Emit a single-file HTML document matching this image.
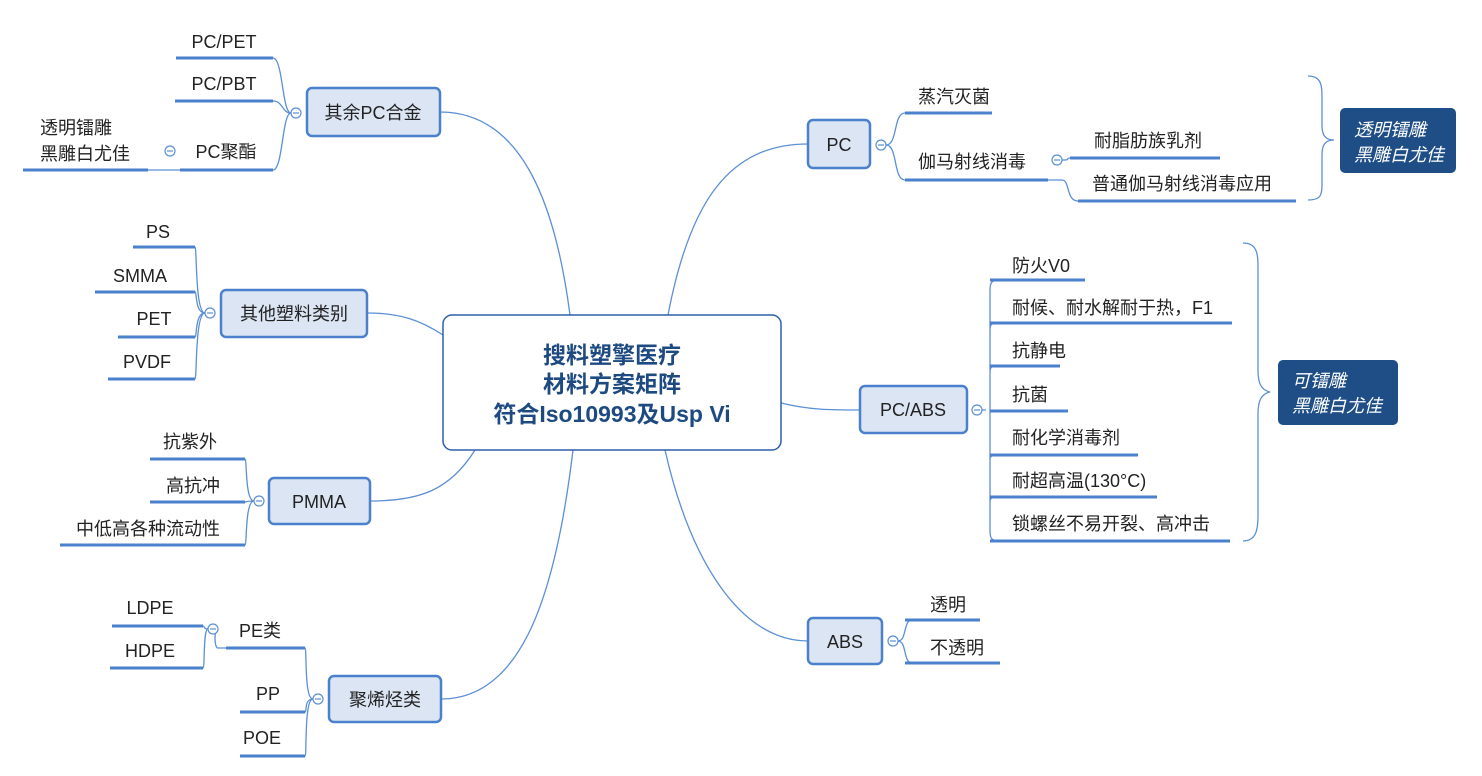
<!DOCTYPE html>
<html><head><meta charset="utf-8"><style>
body{margin:0;background:#fff;}
svg{display:block;font-family:"Liberation Sans","Noto Sans CJK SC",sans-serif;}
.t{font-size:18px;fill:#222;}
.c{stroke:#5b8fd6;stroke-width:1.3;fill:none;}
.l{stroke:#4a80cc;stroke-width:3;}
.b{fill:#dbe5f3;stroke:#4a80cc;stroke-width:2.5;}
.ci{fill:#fff;stroke:#5b8fd6;stroke-width:1.2;}
.m{stroke:#5b8fd6;stroke-width:1.2;}
</style></head><body>
<svg width="1482" height="776" viewBox="0 0 1482 776">
<path class="c" d="M570,315 C555,200 520,112 440,112"/>
<path class="c" d="M443,335 C420,320 400,313 367,313"/>
<path class="c" d="M475,450 C450,490 420,501 370,501"/>
<path class="c" d="M573,450 C555,600 520,699 441,699"/>
<path class="c" d="M668,315 C690,200 730,144 808,144"/>
<path class="c" d="M781,403 C810,410 830,410 860,410"/>
<path class="c" d="M665,450 C690,560 740,641 808,641"/>

<rect x="443" y="315" width="338" height="135" rx="9" fill="#fff" stroke="#2e5ea8" stroke-width="1.5"/>
<g font-weight="bold" font-size="23" fill="#1e4a82" text-anchor="middle">
<text x="612" y="363">搜料塑擎医疗</text>
<text x="612" y="392">材料方案矩阵</text>
<text x="612" y="422">符合Iso10993及Usp Vi</text>
</g>

<g text-anchor="middle" font-size="18" fill="#222">
<rect class="b" x="307" y="88" width="133" height="48" rx="5"/><text x="373" y="119">其余PC合金</text>
<rect class="b" x="221" y="290" width="146" height="47" rx="5"/><text x="294" y="320">其他塑料类别</text>
<rect class="b" x="269" y="478" width="101" height="46" rx="5"/><text x="319" y="508">PMMA</text>
<rect class="b" x="329" y="676" width="112" height="46" rx="5"/><text x="385" y="706">聚烯烃类</text>
<rect class="b" x="808" y="120" width="62" height="48" rx="5"/><text x="839" y="151">PC</text>
<rect class="b" x="860" y="386" width="107" height="47" rx="5"/><text x="913" y="416">PC/ABS</text>
<rect class="b" x="808" y="618" width="74" height="46" rx="5"/><text x="845" y="648">ABS</text>
</g>

<path class="c" d="M291,113 C282,113 283,58 273,58 M291,113 C282,113 283,101 273,101 M291,113 C282,113 283,170 273,170 M180,170 L148,170"/>
<line class="l" x1="176" y1="58" x2="273" y2="58"/>
<line class="l" x1="175" y1="101" x2="273" y2="101"/>
<line class="l" x1="180" y1="170" x2="273" y2="170"/>
<line class="l" x1="23" y1="170" x2="148" y2="170"/>
<g class="t" text-anchor="middle">
<text x="224" y="48">PC/PET</text><text x="224" y="90">PC/PBT</text><text x="226" y="158">PC聚酯</text>
</g>
<text class="t" x="40" y="134">透明镭雕</text><text class="t" x="40" y="160">黑雕白尤佳</text>

<path class="c" d="M205,313 C195,313 197,247 195,247 M205,313 C195,313 197,292 195,292 M205,313 C195,313 197,337 195,337 M205,313 C195,313 197,379 195,379"/>
<line class="l" x1="133" y1="247" x2="195" y2="247"/>
<line class="l" x1="95" y1="292" x2="195" y2="292"/>
<line class="l" x1="118" y1="337" x2="195" y2="337"/>
<line class="l" x1="108" y1="379" x2="195" y2="379"/>
<g class="t" text-anchor="middle">
<text x="158" y="238">PS</text><text x="140" y="282">SMMA</text><text x="154" y="325">PET</text><text x="147" y="368">PVDF</text>
</g>

<path class="c" d="M254,501 C245,501 247,459 245,459 M254,501 C245,501 247,502 245,502 M254,501 C245,501 247,545 245,545"/>
<line class="l" x1="150" y1="459" x2="245" y2="459"/>
<line class="l" x1="150" y1="502" x2="245" y2="502"/>
<line class="l" x1="60" y1="545" x2="245" y2="545"/>
<g class="t" text-anchor="middle">
<text x="190" y="448">抗紫外</text><text x="193" y="492">高抗冲</text><text x="148" y="535">中低高各种流动性</text>
</g>

<path class="c" d="M313,699 C304,699 307,648 305,648 M313,699 C304,699 307,712 305,712 M313,699 C304,699 307,756 305,756 M208,629 C203,629 205,626 203,626 M208,629 C203,629 205,668 203,668 M226,648 L218,648 C214,648 214,629 218,629"/>
<line class="l" x1="226" y1="648" x2="305" y2="648"/>
<line class="l" x1="112" y1="626" x2="203" y2="626"/>
<line class="l" x1="110" y1="668" x2="203" y2="668"/>
<line class="l" x1="240" y1="712" x2="305" y2="712"/>
<line class="l" x1="240" y1="756" x2="305" y2="756"/>
<g class="t" text-anchor="middle">
<text x="260" y="637">PE类</text><text x="150" y="614">LDPE</text><text x="150" y="657">HDPE</text><text x="268" y="700">PP</text><text x="262" y="744">POE</text>
</g>

<path class="c" d="M886,145 C898,145 893,113 905,113 M886,145 C898,145 893,180 905,180 M1062,160 C1072,160 1065,158 1070,158 M1048,180 L1062,180 C1070,180 1066,201 1078,201"/>
<line class="l" x1="905" y1="113" x2="992" y2="113"/>
<line class="l" x1="905" y1="180" x2="1048" y2="180"/>
<line class="l" x1="1070" y1="158" x2="1220" y2="158"/>
<line class="l" x1="1078" y1="201" x2="1296" y2="201"/>
<g class="t">
<text x="918" y="103">蒸汽灭菌</text><text x="918" y="168">伽马射线消毒</text><text x="1094" y="147">耐脂肪族乳剂</text><text x="1092" y="190">普通伽马射线消毒应用</text>
</g>
<path class="c" d="M1308,76 C1322,76 1322,86 1322,100 L1322,125 C1322,135 1325,140 1334,140 C1325,140 1322,145 1322,155 L1322,185 C1322,196 1320,200 1308,200"/>
<rect x="1340" y="108" width="116" height="65" rx="5" fill="#1f4e86"/>
<g fill="#fff" font-size="18" font-style="italic"><text x="1354" y="136">透明镭雕</text><text x="1354" y="161">黑雕白尤佳</text></g>

<path class="c" d="M982,410 L986,410 M990,290 C990,282 992,280 1000,280 M990,290 L990,531 C990,539 992,541 1000,541 M990,330 C990,324 992,323 998,323 M990,372 C990,367 992,366 998,366 M990,460 C990,456 992,455 998,455 M990,502 C990,498 992,497 998,497"/>
<line class="l" x1="990" y1="280" x2="1085" y2="280"/>
<line class="l" x1="990" y1="323" x2="1232" y2="323"/>
<line class="l" x1="990" y1="366" x2="1060" y2="366"/>
<line class="l" x1="990" y1="411" x2="1068" y2="411"/>
<line class="l" x1="990" y1="455" x2="1138" y2="455"/>
<line class="l" x1="990" y1="497" x2="1157" y2="497"/>
<line class="l" x1="990" y1="541" x2="1230" y2="541"/>
<g class="t">
<text x="1012" y="272">防火V0</text><text x="1012" y="314">耐候、耐水解耐于热，F1</text><text x="1012" y="357">抗静电</text><text x="1012" y="401">抗菌</text><text x="1012" y="444">耐化学消毒剂</text><text x="1012" y="487">耐超高温(130°C)</text><text x="1012" y="530">锁螺丝不易开裂、高冲击</text>
</g>
<path class="c" d="M1243,243 C1258,243 1258,255 1258,270 L1258,370 C1258,383 1261,390 1270,392 C1261,394 1258,401 1258,414 L1258,515 C1258,530 1256,541 1243,541"/>
<rect x="1278" y="360" width="120" height="65" rx="5" fill="#1f4e86"/>
<g fill="#fff" font-size="18" font-style="italic"><text x="1292" y="387">可镭雕</text><text x="1292" y="412">黑雕白尤佳</text></g>

<path class="c" d="M898,641 C907,641 903,620 912,620 M898,641 C907,641 903,663 912,663"/>
<line class="l" x1="905" y1="620" x2="980" y2="620"/>
<line class="l" x1="905" y1="663" x2="1000" y2="663"/>
<g class="t"><text x="930" y="611">透明</text><text x="930" y="654">不透明</text></g>

<!-- collapse circles -->
<g>
<circle class="ci" cx="296" cy="113" r="5"/><line class="m" x1="293" y1="113" x2="299" y2="113"/>
<circle class="ci" cx="170" cy="151" r="5"/><line class="m" x1="167" y1="151" x2="173" y2="151"/>
<circle class="ci" cx="210" cy="313" r="5"/><line class="m" x1="207" y1="313" x2="213" y2="313"/>
<circle class="ci" cx="259" cy="501" r="5"/><line class="m" x1="256" y1="501" x2="262" y2="501"/>
<circle class="ci" cx="318" cy="699" r="5"/><line class="m" x1="315" y1="699" x2="321" y2="699"/>
<circle class="ci" cx="213" cy="629" r="5"/><line class="m" x1="210" y1="629" x2="216" y2="629"/>
<circle class="ci" cx="881" cy="145" r="5"/><line class="m" x1="878" y1="145" x2="884" y2="145"/>
<circle class="ci" cx="1057" cy="160" r="5"/><line class="m" x1="1054" y1="160" x2="1060" y2="160"/>
<circle class="ci" cx="977" cy="410" r="5"/><line class="m" x1="974" y1="410" x2="980" y2="410"/>
<circle class="ci" cx="893" cy="641" r="5"/><line class="m" x1="890" y1="641" x2="896" y2="641"/>
</g>
</svg>
</body></html>
